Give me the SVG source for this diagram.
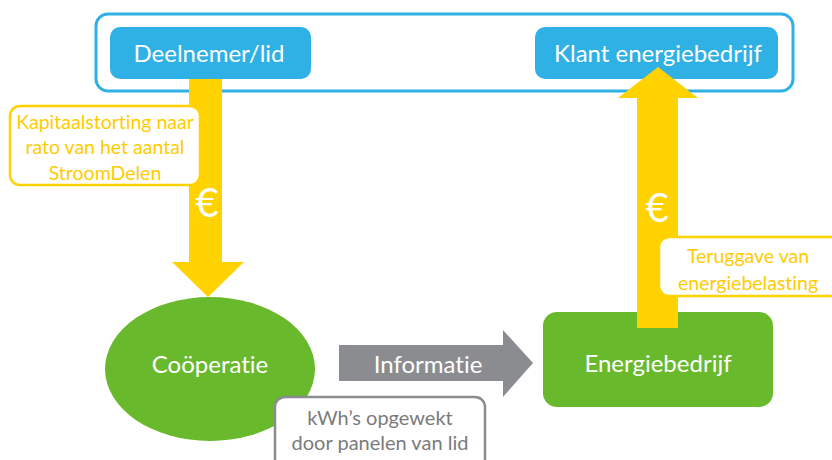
<svg xmlns="http://www.w3.org/2000/svg" width="832" height="460" viewBox="0 0 832 460">
<style>
text{font-family:Lato,"Open Sans","Liberation Sans",sans-serif;text-anchor:middle;font-variant-ligatures:none}
.blue{fill:#2fb1e6}
.green{fill:#69b92c}
.yel{fill:#ffd200}
.wt{fill:#fff;font-size:24px}
.yt{fill:#ffcc00;font-size:19.5px}
.gt{fill:#7b7b7b;font-size:20px}
.eur{fill:#fff;font-size:40px}
.call{fill:#fff;stroke-width:2.5}
</style>
<rect width="832" height="460" fill="#fff"/>
<g id="group-top">
<rect x="96" y="14" width="697" height="77" rx="12" fill="#fff" stroke="#2fb1e6" stroke-width="3"/>
</g>
<g id="node-deelnemer">
<rect class="blue" x="110" y="27" width="201" height="52" rx="10"/>
<text class="wt" x="209" y="62">Deelnemer/lid</text>
</g>
<g id="node-klant">
<rect class="blue" x="535" y="27" width="243" height="52" rx="10"/>
<text class="wt" x="658" y="62">Klant energiebedrijf</text>
</g>
<g id="node-cooperatie">
<ellipse class="green" cx="210" cy="369" rx="105" ry="72"/>
<text class="wt" x="210" y="373">Coöperatie</text>
</g>
<g id="node-energiebedrijf">
<rect class="green" x="543" y="312" width="230" height="95" rx="14"/>
<text class="wt" x="658" y="372">Energiebedrijf</text>
</g>
<g id="connectors">
<polygon class="yel" points="189,79 222,79 222,262 244,262 208,297 172,262 189,262"/>
<text class="eur" x="207" y="217">€</text>
<polygon class="yel" points="637,328 678,328 678,98 698,98 658,67 618,98 637,98"/>
<text class="eur" x="657" y="222">€</text>
<polygon fill="#8a8c8f" points="339,345 503,345 503,330 533,363 503,397 503,381 339,381"/>
<text class="wt" x="428" y="373">Informatie</text>
</g>
<g id="label-kapitaal">
<rect class="call" x="10" y="106" width="190" height="79" rx="10" stroke="#ffd200"/>
<text class="yt" x="105" y="129">Kapitaalstorting naar</text>
<text class="yt" x="105" y="154">rato van het aantal</text>
<text class="yt" x="105" y="180">StroomDelen</text>
</g>
<g id="label-teruggave">
<rect class="call" x="659" y="237" width="190" height="59" rx="10" stroke="#ffd200"/>
<text class="yt" x="748" y="263">Teruggave van</text>
<text class="yt" x="748" y="290">energiebelasting</text>
</g>
<g id="label-kwh">
<rect class="call" x="275" y="397" width="210" height="80" rx="10" stroke="#8a8c8f"/>
<text class="gt" x="380" y="425">kWh’s opgewekt</text>
<text class="gt" x="380" y="450">door panelen van lid</text>
</g>
</svg>
